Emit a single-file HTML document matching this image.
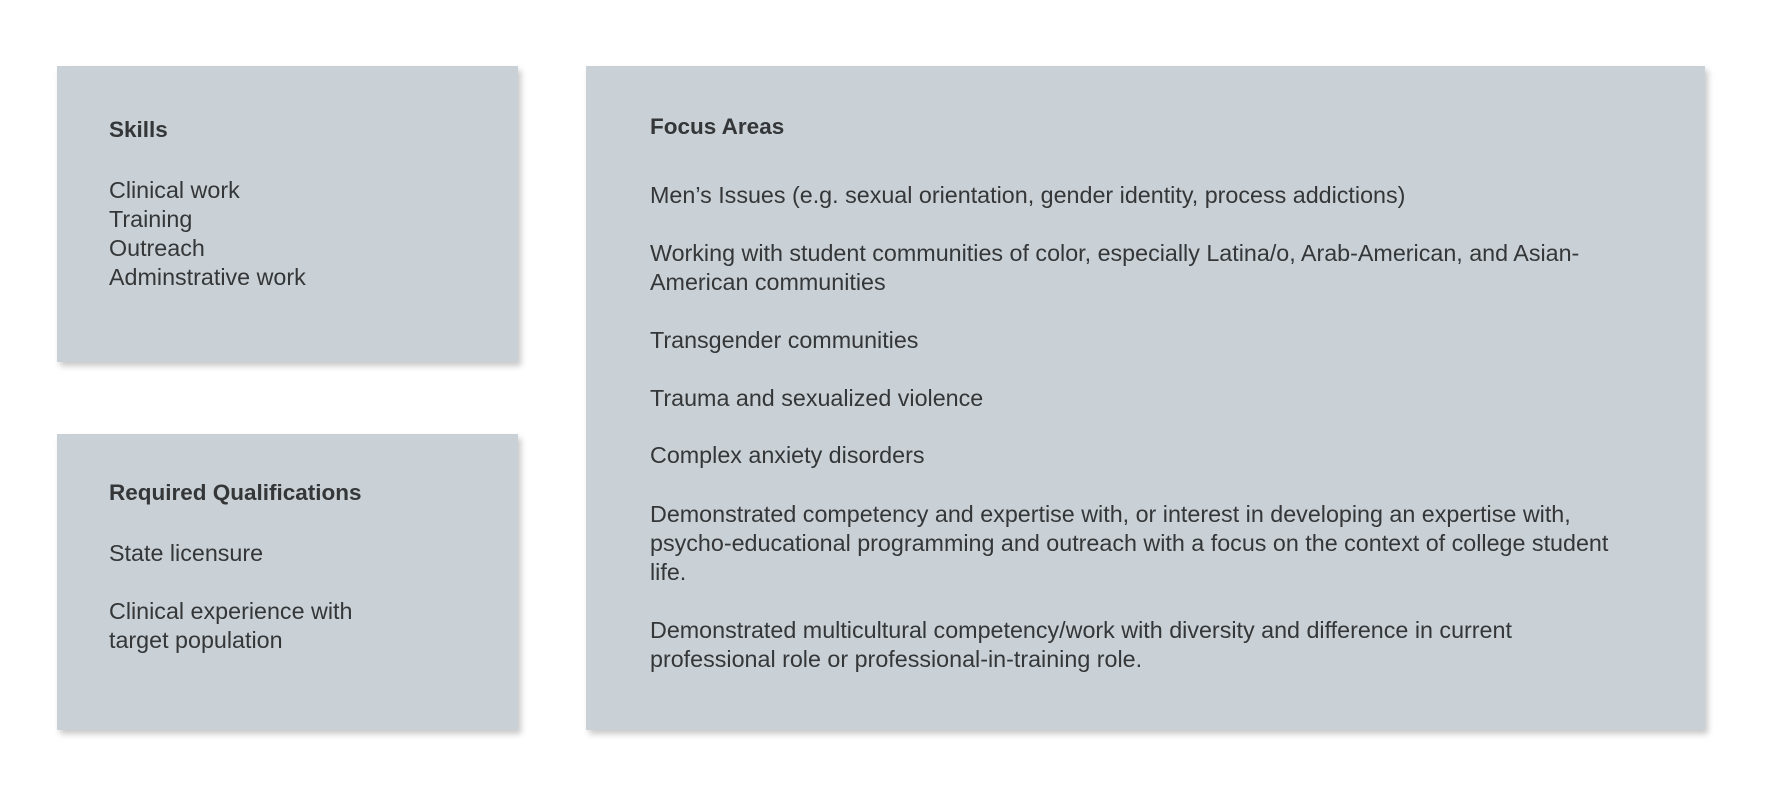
<!DOCTYPE html>
<html><head><meta charset="utf-8"><style>
body{margin:0;width:1776px;height:790px;background:#fff;position:relative;overflow:hidden;font-family:"Liberation Sans",sans-serif;color:#343638;}
.b{position:absolute;background:#c9d1d6;box-shadow:3px 4px 6px rgba(0,0,0,0.22);}
.t{position:absolute;font-size:23.3px;line-height:29px;white-space:nowrap;}
.h{font-weight:bold;font-size:22.5px;}
</style></head><body>
<div class="b" style="left:57px;top:66px;width:461px;height:296px"></div>
<div class="b" style="left:57px;top:434px;width:461px;height:296px"></div>
<div class="b" style="left:586px;top:66px;width:1119px;height:664px"></div>

<div class="t h" style="left:109px;top:115px">Skills</div>
<div class="t" style="left:109px;top:176px">Clinical work<br>Training<br>Outreach<br>Adminstrative work</div>

<div class="t h" style="left:109px;top:478px">Required Qualifications</div>
<div class="t" style="left:109px;top:539px">State licensure</div>
<div class="t" style="left:109px;top:597px">Clinical experience with<br>target population</div>

<div class="t h" style="left:650px;top:112px">Focus Areas</div>
<div class="t" style="left:650px;top:181px">Men’s Issues (e.g. sexual orientation, gender identity, process addictions)</div>
<div class="t" style="left:650px;top:239px">Working with student communities of color, especially Latina/o, Arab-American, and Asian-<br>American communities</div>
<div class="t" style="left:650px;top:326px">Transgender communities</div>
<div class="t" style="left:650px;top:384px">Trauma and sexualized violence</div>
<div class="t" style="left:650px;top:441px">Complex anxiety disorders</div>
<div class="t" style="left:650px;top:500px">Demonstrated competency and expertise with, or interest in developing an expertise with,<br>psycho-educational programming and outreach with a focus on the context of college student<br>life.</div>
<div class="t" style="left:650px;top:616px">Demonstrated multicultural competency/work with diversity and difference in current<br>professional role or professional-in-training role.</div>
</body></html>
